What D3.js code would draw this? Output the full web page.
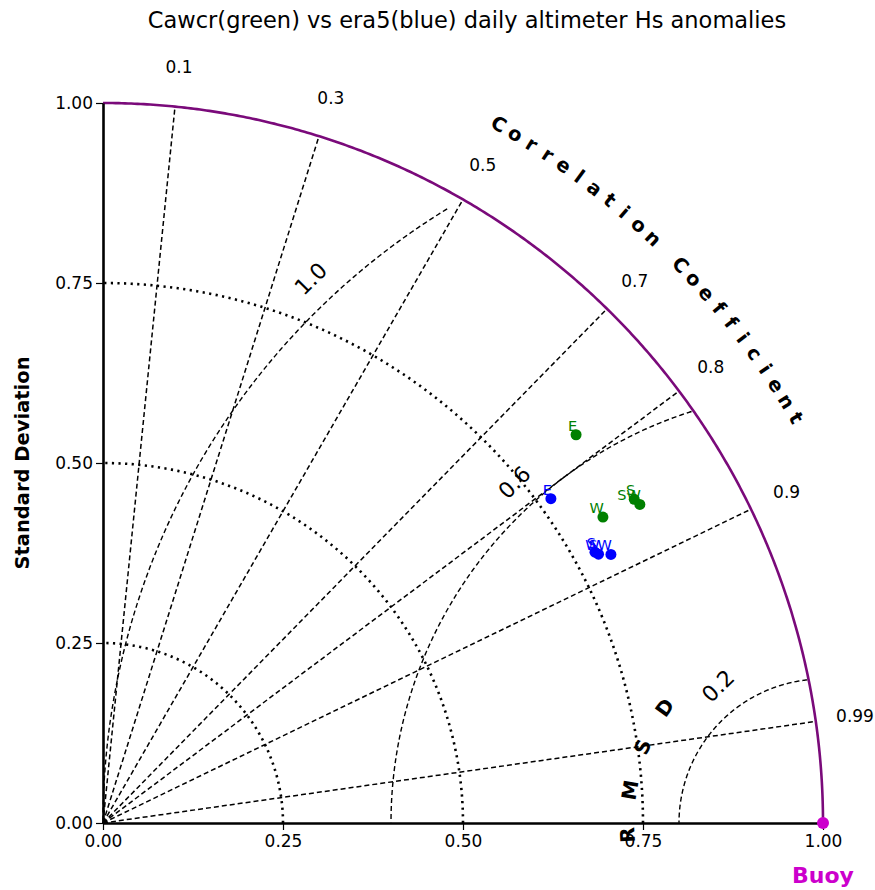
<!DOCTYPE html>
<html><head><meta charset="utf-8">
<script src="https://cdn.jsdelivr.net/npm/d3@7"></script>
<style>
body{margin:0;background:#fff;}
text{font-family:"DejaVu Sans",sans-serif;}
</style></head>
<body><svg id="c" width="875" height="890"></svg>
<script>
// ---- data ----
const title = "Cawcr(green) vs era5(blue) daily altimeter Hs anomalies";
const stdTicks = [0, 0.25, 0.5, 0.75, 1.0];
const stdCircles = [0.25, 0.5, 0.75];
const corrTicks = [0.1, 0.3, 0.5, 0.7, 0.8, 0.9, 0.99];
const rmsTicks = [0.2, 0.6, 1.0];
const refStd = 1.0;
const refLabel = "Buoy";
const sites = ["E", "W", "S", "SW"];
const cawcrStd  = [0.850, 0.814, 0.864, 0.867];
const cawcrCorr = [0.773, 0.853, 0.854, 0.860];
const era5Sites = ["E", "S", "W", "SW"];
const era5Std   = [0.768, 0.780, 0.783, 0.798];
const era5Corr  = [0.810, 0.876, 0.879, 0.884];

// ---- layout ----
const svg = d3.select("#c");
const ox = 103, oy = 823, R = 720;
const r = d3.scaleLinear().domain([0, 1]).range([0, R]);
const xS = d3.scaleLinear().domain([0, 1]).range([ox, ox + R]);
const yS = d3.scaleLinear().domain([0, 1]).range([oy, oy - R]);
const P = (rho, ang) => [ox + r(rho) * Math.cos(ang), oy - r(rho) * Math.sin(ang)];
const line = d3.line();

// title
svg.append("text").attr("x", 467).attr("y", 28).attr("text-anchor", "middle")
  .attr("font-size", 22.5).text(title);

// std dotted circles
stdCircles.forEach(s => {
  const pts = d3.range(0, 91).map(d => P(s, d * Math.PI / 180));
  svg.append("path").attr("d", line(pts)).attr("fill", "none")
    .attr("stroke", "#000").attr("stroke-width", 2.6).attr("stroke-dasharray", "2.2,4.4");
});

// correlation radial dashed lines
corrTicks.forEach(c => {
  const a = Math.acos(c);
  svg.append("path").attr("d", line([P(0, a), P(1, a)])).attr("fill", "none")
    .attr("stroke", "#000").attr("stroke-width", 1.5).attr("stroke-dasharray", "5,3");
  const [lx, ly] = P(1.055, a);
  svg.append("text").attr("x", lx).attr("y", ly).attr("text-anchor", "middle")
    .attr("dominant-baseline", "central").attr("font-size", 17).text(String(c));
});

// RMSD dashed circles centered at reference
rmsTicks.forEach(m => {
  const step = 0.04;
  // first sampled angle inside the outer std arc
  let t0 = 0;
  while (Math.hypot(refStd + m * Math.cos(t0), m * Math.sin(t0)) > 1.0) t0 += step;
  const pts = [];
  for (let t = t0; t <= Math.PI + 1e-9; t += 0.004) {
    pts.push([xS(refStd + m * Math.cos(t)), yS(Math.max(0, m * Math.sin(t)))]);
  }
  svg.append("path").attr("d", line(pts)).attr("fill", "none")
    .attr("stroke", "#000").attr("stroke-width", 1.4).attr("stroke-dasharray", "5,3");
  const la = 135 * Math.PI / 180;
  const lx = xS(refStd + m * Math.cos(la)) - 3, ly = yS(m * Math.sin(la)) - 35;
  svg.append("text").attr("transform", `translate(${lx},${ly}) rotate(-45)`)
    .attr("text-anchor", "middle").attr("dominant-baseline", "central")
    .attr("font-size", 22).text(m.toFixed(1));
});

// outer arc (purple)
svg.append("path").attr("d", line(d3.range(0, 90.25, 0.25).map(d => P(1, d * Math.PI / 180))))
  .attr("fill", "none").attr("stroke", "#7a0a7a").attr("stroke-width", 2.6);

// axes
const axL = svg.append("g").attr("transform", `translate(${ox},0)`)
  .call(d3.axisLeft(yS).tickValues(stdTicks).tickFormat(d3.format(".2f")).tickSize(7).tickSizeOuter(0));
const axB = svg.append("g").attr("transform", `translate(0,${oy})`)
  .call(d3.axisBottom(xS).tickValues(stdTicks).tickFormat(d3.format(".2f")).tickSize(7).tickSizeOuter(0));
[axL, axB].forEach(g => {
  g.select(".domain").attr("stroke", "#000").attr("stroke-width", 2.6);
  g.selectAll(".tick line").attr("stroke", "#000").attr("stroke-width", 1.2);
  g.selectAll(".tick text").attr("font-size", 17).attr("font-family", "DejaVu Sans").attr("fill", "#000");
});
axB.selectAll(".tick text").attr("dy", "0.85em");

svg.append("text").attr("transform", `translate(29,463) rotate(-90)`)
  .attr("text-anchor", "middle").attr("font-size", 19.5).attr("font-weight", "bold")
  .text("Standard Deviation");

// "Correlation Coefficient" along arc
const cc = "Correlation Coefficient".split("");
cc.forEach((ch, i) => {
  const deg = 60.47 - i * 1.371;
  const [x, y] = P(1.115, deg * Math.PI / 180);
  svg.append("text").attr("transform", `translate(${x},${y}) rotate(${90 - deg})`)
    .attr("text-anchor", "middle").attr("dominant-baseline", "central")
    .attr("font-size", 19.5).attr("font-weight", "bold").text(ch);
});

// "RMSD" along arc around reference
"RMSD".split("").forEach((ch, i) => {
  const deg = 183.5 - i * 13.2;
  const a = deg * Math.PI / 180;
  const x = xS(refStd + 0.272 * Math.cos(a)), y = yS(0.272 * Math.sin(a));
  svg.append("text").attr("transform", `translate(${x},${y}) rotate(${90 - deg})`)
    .attr("text-anchor", "middle").attr("dominant-baseline", "central")
    .attr("font-size", 20).attr("font-weight", "bold").text(ch);
});

// data points
function drawSet(names, stds, corrs, color) {
  names.forEach((n, i) => {
    const [x, y] = P(stds[i], Math.acos(corrs[i]));
    svg.append("circle").attr("cx", x).attr("cy", y).attr("r", 5.5).attr("fill", color);
    svg.append("text").attr("x", x + 1).attr("y", y - 4).attr("text-anchor", "end")
      .attr("font-size", 14.5).attr("fill", color).text(n);
  });
}
drawSet(sites, cawcrStd, cawcrCorr, "#008000");
drawSet(era5Sites, era5Std, era5Corr, "#0000ff");

// reference point
svg.append("circle").attr("cx", xS(refStd)).attr("cy", yS(0)).attr("r", 6).attr("fill", "#cc00cc");
svg.append("text").attr("x", xS(refStd)).attr("y", 883).attr("text-anchor", "middle")
  .attr("font-size", 22).attr("font-weight", "bold").attr("fill", "#cc00cc").text(refLabel);
</script></body></html>
